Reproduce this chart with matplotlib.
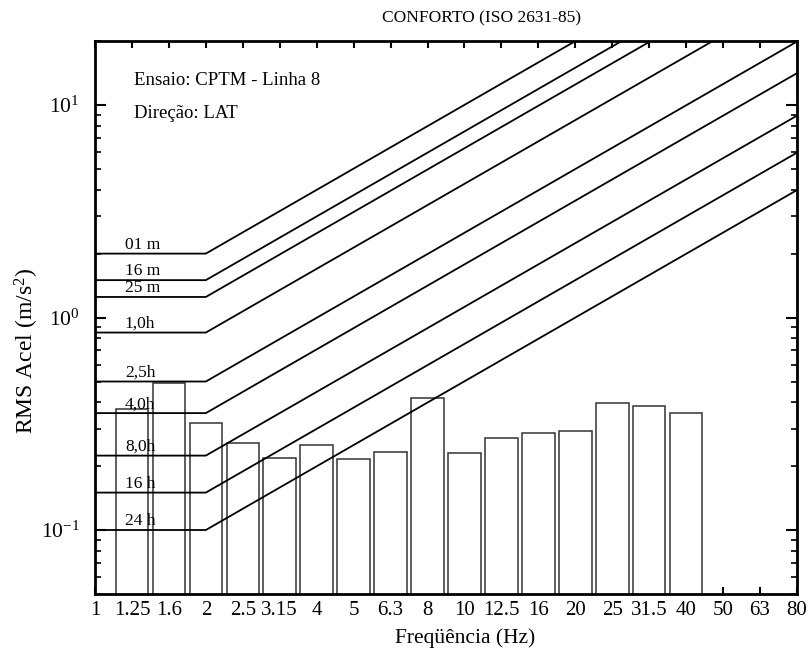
import numpy as np
import matplotlib
matplotlib.use("Agg")
import matplotlib.pyplot as plt
from matplotlib.ticker import FixedLocator, NullLocator, LogLocator, LogFormatterMathtext

plt.rcParams['font.family'] = ['Liberation Serif', 'DejaVu Serif']
plt.rcParams['mathtext.fontset'] = 'custom'
plt.rcParams['mathtext.rm'] = 'Liberation Serif'
plt.rcParams['mathtext.it'] = 'Liberation Serif:italic'

# 1/3-octave band labels (nominal) and measured RMS acceleration per band
band_labels = ["1", "1.25", "1.6", "2", "2.5", "3.15", "4", "5", "6.3", "8",
               "10", "12.5", "16", "20", "25", "31.5", "40", "50", "63", "80"]
rms_bands = ["1.25", "1.6", "2", "2.5", "3.15", "4", "5", "6.3", "8",
             "10", "12.5", "16", "20", "25", "31.5", "40"]
rms_values = [0.363, 0.481, 0.308, 0.246, 0.209, 0.241, 0.205, 0.223, 0.41,
              0.221, 0.26, 0.275, 0.284, 0.388, 0.375, 0.344]

# ISO 2631-85 comfort boundaries (flat up to 2 Hz, proportional to f above)
limit_labels = ["01 m", "16 m", "25 m", "1,0h", "2,5h", "4,0h", "8,0h", "16 h", "24 h"]
limit_levels = [2.0, 1.5, 1.25, 0.85, 0.5, 0.355, 0.224, 0.15, 0.1]
corner_band = "2"

# exact band centre frequencies (10^(n/10))
centres = 10 ** (np.arange(len(band_labels)) / 10.0)
idx = {lab: i for i, lab in enumerate(band_labels)}

fig = plt.figure(figsize=(8.12, 6.53), dpi=100)
ax = fig.add_axes([0.117, 0.0904, 0.8645, 0.8466])
ax.set_xscale('log')
ax.set_yscale('log')

# bars
half = 0.44
for lab, v in zip(rms_bands, rms_values):
    i = idx[lab]
    left = 10 ** ((i - half) / 10.0)
    right = 10 ** ((i + half) / 10.0)
    ax.bar(left, v, width=right - left, align='edge', bottom=0.01,
           facecolor='white', edgecolor='#333333', linewidth=1.1, zorder=2)

# comfort boundary lines
f0 = centres[0]
fc = centres[idx[corner_band]]
fe = centres[-1]
for lab, L in zip(limit_labels, limit_levels):
    ax.plot([f0, fc, fe], [L, L, L * fe / fc], color='black', lw=1.3, zorder=3)
    ax.text(10 ** 0.081, L * 1.01, lab, fontsize=12.5, ha='left', va='bottom', zorder=4)

ax.set_xlim(centres[0], centres[-1])
ax.set_ylim(0.05, 20)

ax.xaxis.set_major_locator(FixedLocator(centres))
ax.xaxis.set_minor_locator(NullLocator())
ax.set_xticklabels(band_labels, fontsize=15)
ax.yaxis.set_major_locator(LogLocator(base=10, numticks=10))
ax.yaxis.set_minor_locator(LogLocator(base=10, subs=np.arange(2, 10), numticks=20))
ax.yaxis.set_major_formatter(LogFormatterMathtext())
ax.tick_params(axis='both', which='both', direction='in', top=True, right=True)
ax.tick_params(axis='y', which='major', length=8, width=1.5, labelsize=15.5, pad=11)
ax.tick_params(axis='y', which='minor', length=4, width=1.2)
ax.tick_params(axis='x', which='major', length=5, width=1.5, pad=5)
for s in ax.spines.values():
    s.set_linewidth(2)

ax.set_xlabel("Freqüência (Hz)", fontsize=15.5)
ax.set_ylabel("RMS Acel (m/s$^2$)", fontsize=17)
ax.xaxis.set_label_coords(0.527, -0.062)
ax.yaxis.set_label_coords(-0.077, 0.44)
fig.text(482 / 812, 1 - 18 / 653, "CONFORTO (ISO 2631-85)", fontsize=12.5,
         ha='center', va='center')

ax.text(0.055, 0.945, "Ensaio: CPTM - Linha 8", transform=ax.transAxes,
        fontsize=13.5, ha='left', va='top')
ax.text(0.055, 0.885, "Direção: LAT", transform=ax.transAxes,
        fontsize=13.5, ha='left', va='top')

fig.savefig("out.png", dpi=100)
